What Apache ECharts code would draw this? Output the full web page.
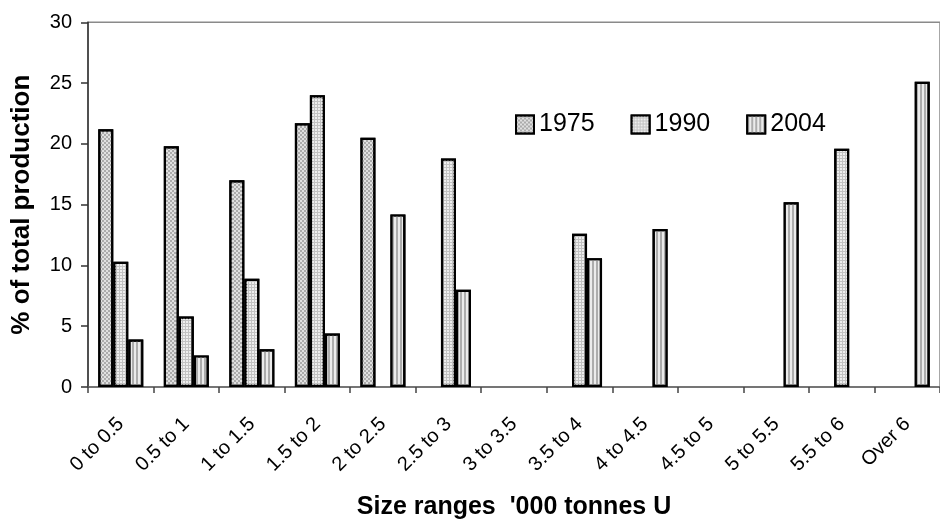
<!DOCTYPE html>
<html>
<head>
<meta charset="utf-8">
<script src="https://cdn.jsdelivr.net/npm/echarts@6/dist/echarts.min.js"></script>
<style>html,body{margin:0;padding:0;background:#fff}#c{width:940px;height:525px}</style>
</head>
<body>
<div id="c"></div>
<script>
var categories = ['0 to 0.5','0.5 to 1','1 to 1.5','1.5 to 2','2 to 2.5','2.5 to 3','3 to 3.5','3.5 to 4','4 to 4.5','4.5 to 5','5 to 5.5','5.5 to 6','Over 6'];
var seriesNames = ['1975','1990','2004'];
var values1975 = [21.2, 19.8, 17.0, 21.7, 20.5, null, null, null, null, null, null, null, null];
var values1990 = [10.3, 5.8, 8.9, 24.0, null, 18.8, null, 12.6, null, null, null, 19.6, null];
var values2004 = [3.9, 2.6, 3.1, 4.4, 14.2, 8.0, null, 10.6, 13.0, null, 15.2, null, 25.1];
var yTicks = [0, 5, 10, 15, 20, 25, 30];

var FONT = 'Liberation Sans, Arial, sans-serif';
var chart = echarts.init(document.getElementById('c'), null, {renderer: 'canvas'});

var styles = [
  {color: '#e0e0e0', borderColor: '#000', borderWidth: 2.2,
   decal: {symbol: 'rect', symbolSize: 1, dashArrayX: [[2, 2], [0, 2, 2, 0]], dashArrayY: [2, 0], color: '#ababab'}},
  {color: '#c2c2c2', borderColor: '#000', borderWidth: 2.2,
   decal: {symbol: 'rect', symbolSize: 1, dashArrayX: [2, 1], dashArrayY: [2, 1], color: '#eeeeee'}},
  {color: '#ebebeb', borderColor: '#000', borderWidth: 2.2,
   decal: {symbol: 'rect', symbolSize: 1, dashArrayX: [2, 2], dashArrayY: [10, 0], color: '#acacac'}}
];
var data = [values1975, values1990, values2004];

chart.setOption({
  animation: false,
  backgroundColor: '#fff',
  textStyle: {fontFamily: FONT, color: '#000'},
  grid: {left: 88, right: -13.5, top: 22.3, bottom: 135.5, containLabel: false,
         show: true, borderColor: '#8a8a8a', borderWidth: 1.5, backgroundColor: 'transparent'},
  legend: {
    data: seriesNames,
    left: 510, top: 107,
    itemWidth: 18, itemHeight: 18, itemGap: 36,
    textStyle: {fontFamily: FONT, fontSize: 25, color: '#000'},
    icon: 'rect'
  },
  xAxis: {
    type: 'category',
    data: categories,
    name: "Size ranges  '000 tonnes U",
    nameLocation: 'middle',
    nameGap: 108,
    nameTextStyle: {fontFamily: FONT, fontSize: 25, fontWeight: 'bold', color: '#000'},
    axisLine: {lineStyle: {color: '#666', width: 1.5}},
    axisTick: {show: true, length: 6, lineStyle: {color: '#444', width: 1.5}},
    axisLabel: {rotate: 45, margin: 34, fontSize: 20, fontFamily: FONT, color: '#000', interval: 0},
    splitLine: {show: false}
  },
  yAxis: {
    type: 'value',
    min: yTicks[0], max: yTicks[yTicks.length - 1], interval: yTicks[1] - yTicks[0],
    name: '% of total production',
    nameLocation: 'middle',
    nameGap: 53,
    nameRotate: 90,
    nameTextStyle: {fontFamily: FONT, fontSize: 26, fontWeight: 'bold', color: '#000'},
    axisLine: {show: true, lineStyle: {color: '#333', width: 1.5}},
    axisTick: {show: true, length: 7, lineStyle: {color: '#333', width: 1.5}},
    axisLabel: {margin: 16, fontSize: 20, fontFamily: FONT, color: '#000'},
    splitLine: {show: false}
  },
  series: seriesNames.map(function (name, i) {
    return {
      name: name,
      type: 'bar',
      data: data[i],
      barWidth: 15,
      barGap: '0%',
      barCategoryGap: '32%',
      itemStyle: styles[i]
    };
  })
});
</script>
</body>
</html>
